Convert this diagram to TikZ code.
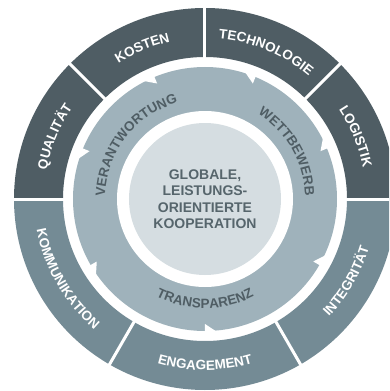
\documentclass[tikz,border=0pt]{standalone}
\usepackage{fontspec}
\setmainfont{Liberation Sans}
\usetikzlibrary{decorations.text}
\definecolor{ringdark}{HTML}{4F5D64}
\definecolor{ringlight}{HTML}{748B95}
\definecolor{ringmid}{HTML}{9FB2BB}
\definecolor{corefill}{HTML}{D5DDE1}
\definecolor{coretext}{HTML}{56656C}
\tikzstyle{gapline} = [draw=white, line width=3pt]
\tikzstyle{notch} = [fill=white]
\tikzstyle{arclabel} = [decorate, decoration={text along path, text align=center}]
\tikzstyle{coretxt} = [align=center, text=coretext, font=\bfseries\fontsize{14}{16.5}\selectfont]
\newcommand{\outerfont}{\bfseries\fontsize{13.5}{13.5}\selectfont\color{white}}
\newcommand{\midfont}{\bfseries\fontsize{13.5}{13.5}\selectfont\color{ringdark}}

\begin{document}
\begin{tikzpicture}[x=1pt, y=1pt]
\useasboundingbox (-205,-192) rectangle (184,199);
\clip (-205,-192) rectangle (184,199);

\fill[ringdark] (0:191) arc[start angle=0, end angle=180, radius=191] -- (180:142) arc[start angle=180, end angle=0, radius=142] -- cycle;
\fill[ringlight] (180:191) arc[start angle=180, end angle=360, radius=191] -- (360:142) arc[start angle=360, end angle=180, radius=142] -- cycle;
\draw[gapline] (0:138) -- (0:196);
\draw[gapline] (45:138) -- (45:196);
\draw[gapline] (90:138) -- (90:196);
\draw[gapline] (135:138) -- (135:196);
\draw[gapline] (180:138) -- (180:196);
\draw[gapline] (240:138) -- (240:196);
\draw[gapline] (300:138) -- (300:196);

\fill[ringmid] (0,0) circle[radius=132];
\fill[notch] (157.5:135) -- (157.5:125) -- (163.5:135) -- cycle;
\fill[notch] (112.5:135) -- (112.5:125) -- (118.5:135) -- cycle;
\fill[notch] (67.5:135) -- (67.5:125) -- (73.5:135) -- cycle;
\fill[notch] (22.5:135) -- (22.5:125) -- (28.5:135) -- cycle;
\fill[notch] (330:135) -- (330:125) -- (336:135) -- cycle;
\fill[notch] (270:135) -- (270:125) -- (276:135) -- cycle;
\fill[notch] (210:135) -- (210:125) -- (216:135) -- cycle;
\fill[white] (0,0) circle[radius=88];
\fill[corefill] (0,0) circle[radius=76];

\path[arclabel, decoration={text={|\outerfont|QUALITÄT}}] (197.5:161) arc[start angle=197.5, end angle=117.5, radius=161];
\path[arclabel, decoration={text={|\outerfont|KOSTEN}}] (152.5:161) arc[start angle=152.5, end angle=72.5, radius=161];
\path[arclabel, decoration={text={|\outerfont|TECHNOLOGIE}}] (107.5:161) arc[start angle=107.5, end angle=27.5, radius=161];
\path[arclabel, decoration={text={|\outerfont|LOGISTIK}}] (62.5:161) arc[start angle=62.5, end angle=-17.5, radius=161];
\path[arclabel, decoration={text={|\outerfont|KOMMUNIKATION}}] (160:171) arc[start angle=160, end angle=260, radius=171];
\path[arclabel, decoration={text={|\outerfont|ENGAGEMENT}}] (220:171) arc[start angle=220, end angle=320, radius=171];
\path[arclabel, decoration={text={|\outerfont|INTEGRITÄT}}] (280:171) arc[start angle=280, end angle=380, radius=171];

\path[arclabel, decoration={text={|\midfont|VERANTWORTUNG}}] (202:100) arc[start angle=202, end angle=82, radius=100];
\path[arclabel, decoration={text={|\midfont|WETTBEWERB}}] (90:100) arc[start angle=90, end angle=-30, radius=100];
\path[arclabel, decoration={text={|\midfont|TRANSPARENZ}}] (210:109) arc[start angle=210, end angle=330, radius=109];

\node[coretxt] (core) at (0,0) {GLOBALE,\\LEISTUNGS-\\ORIENTIERTE\\KOOPERATION};
\end{tikzpicture}
\end{document}
